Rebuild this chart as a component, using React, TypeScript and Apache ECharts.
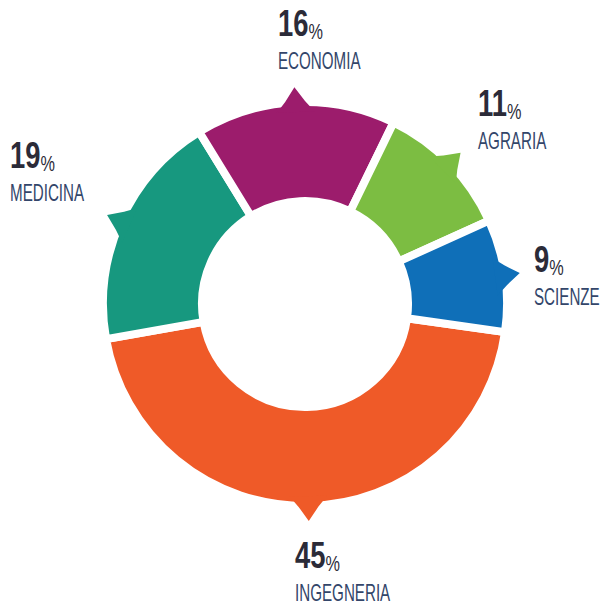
import React, { useEffect, useRef } from 'react';
import * as echarts from 'echarts';

const categories = ['INGEGNERIA', 'MEDICINA', 'ECONOMIA', 'AGRARIA', 'SCIENZE'];
const values = [45, 19, 16, 11, 9];
const colors = ['#ef5a28', '#17987f', '#9c1c6c', '#7cbd42', '#0f6fb8'];

const CX = 305;
const CY = 304;
const R_IN = 103;
const R_OUT = 202;
const START = -8;
const labelPos = [
  [295, 537],
  [10, 137],
  [278, 5],
  [478, 85],
  [534, 241],
];

export default function App() {
  const ref = useRef<HTMLDivElement>(null);
  useEffect(() => {
    document.body.style.margin = '0';
    const chart = echarts.init(ref.current!, null, { renderer: 'svg' });
    const total = values.reduce((a, b) => a + b, 0);
    let cum = 0;
    const spans = values.map((v) => {
      const s = cum;
      cum += v;
      return [s, cum];
    });
    chart.setOption({
      animation: false,
      series: [
        {
          type: 'pie',
          center: [CX, CY],
          radius: [R_IN, R_OUT],
          startAngle: START,
          clockwise: true,
          silent: true,
          label: { show: false },
          labelLine: { show: false },
          itemStyle: { borderColor: '#ffffff', borderWidth: 8 },
          data: categories.map((c, i) => ({ name: c, value: values[i], itemStyle: { color: colors[i] } })),
        },
        {
          type: 'custom',
          coordinateSystem: 'none',
          silent: true,
          z: 3,
          data: spans.map((s, i) => [s[0], s[1], i]),
          renderItem: (params: any, api: any) => {
            const s = api.value(0);
            const e = api.value(1);
            const i = api.value(2);
            const mid = (START - (360 * (s + e)) / 2 / total) * Math.PI / 180;
            const pt = (da: number, r: number) => {
              const a = mid + (da * Math.PI) / 180;
              return [CX + r * Math.cos(a), CY - r * Math.sin(a)];
            };
            return {
              type: 'polygon',
              shape: {
                points: [pt(-5.6, 193), pt(-2.8, 203), pt(0, 217), pt(2.8, 203), pt(5.6, 193)],
              },
              style: { fill: colors[i] },
            };
          },
        },
      ],
      graphic: categories.map((c, i) => ({
        type: 'group',
        x: labelPos[i][0],
        y: labelPos[i][1],
        children: [
          {
            type: 'text',
            x: 0,
            y: 0,
            scaleX: 0.74,
            style: {
              text: `{n|${values[i]}}{p|%}`,
              verticalAlign: 'top',
              rich: {
                n: { fontSize: 37, fontWeight: 'bold', fontFamily: 'Liberation Sans', fill: '#2b2b38', verticalAlign: 'bottom' },
                p: { fontSize: 22, fontFamily: 'Liberation Sans', fill: '#2b2b38', verticalAlign: 'bottom' },
              },
            },
          },
          {
            type: 'text',
            x: 0,
            y: 44,
            scaleX: 0.66,
            style: {
              text: c,
              font: '23px "Liberation Sans"',
              fill: '#33466a',
              verticalAlign: 'top',
            },
          },
        ],
      })),
    });
    return () => chart.dispose();
  }, []);
  return <div ref={ref} style={{ width: 603, height: 607 }} />;
}
